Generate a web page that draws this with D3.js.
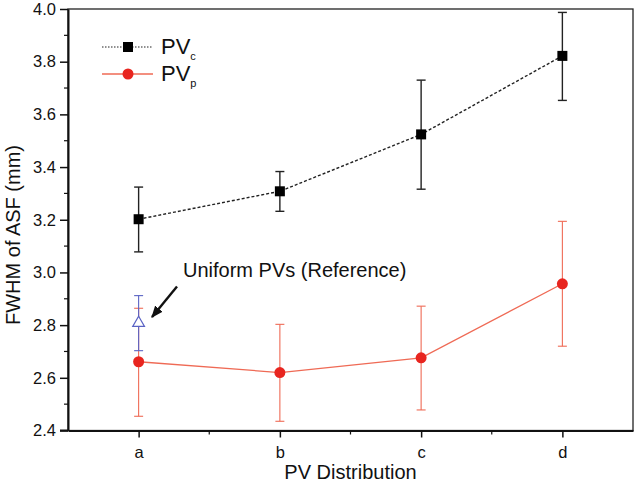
<!DOCTYPE html>
<html><head><meta charset="utf-8">
<script src="https://cdn.jsdelivr.net/npm/d3@7/dist/d3.min.js"></script>
<style>body{margin:0;background:#fff}svg{display:block}text{font-family:"Liberation Sans",Arial,sans-serif}</style>
</head><body><svg id="c" width="636" height="483"></svg>
<script>
const categories = ["a","b","c","d"];
const pvcValues = [3.202, 3.308, 3.524, 3.822];
const pvcUpper  = [3.324, 3.383, 3.730, 3.987];
const pvcLower  = [3.078, 3.232, 3.316, 3.653];
const pvpValues = [2.661, 2.620, 2.676, 2.957];
const pvpUpper  = [2.864, 2.803, 2.872, 3.194];
const pvpLower  = [2.454, 2.435, 2.478, 2.720];
const refCategory = "a";
const refValue = 2.808, refUpper = 2.912, refLower = 2.703;
const yTicks = [2.4, 2.6, 2.8, 3.0, 3.2, 3.4, 3.6, 3.8, 4.0];

const svg = d3.select("#c");
const L = 68, R = 633, T = 9, B = 430.5;
const x = d3.scaleLinear().domain([0.5, 4.5]).range([L, R]);
const xi = i => x(i + 1);
const y = d3.scaleLinear().domain([2.4, 4.0]).range([B, T]);

// frame
svg.append("rect").attr("x", L).attr("y", T).attr("width", R - L).attr("height", B - T)
  .attr("fill", "none").attr("stroke", "#222").attr("stroke-width", 1.3);

// y axis
const ya = svg.append("g").attr("transform", `translate(${L},0)`)
  .call(d3.axisLeft(y).tickValues(yTicks).tickFormat(d3.format(".1f")).tickSizeOuter(0).tickSizeInner(8).tickPadding(4));
ya.select(".domain").attr("stroke", "#111").attr("stroke-width", 2);
ya.selectAll(".tick line").attr("stroke", "#111").attr("stroke-width", 1.5);
ya.selectAll("text").attr("font-size", 16.5).attr("fill", "#111").attr("font-family", '"Liberation Sans",Arial,sans-serif');
const yMinor = d3.range(2.5, 4.0, 0.2);
svg.append("g").selectAll("line").data(yMinor).join("line")
  .attr("x1", L - 4).attr("x2", L).attr("y1", d => y(d)).attr("y2", d => y(d))
  .attr("stroke", "#111").attr("stroke-width", 1.2);

// x axis
const xa = svg.append("g").attr("transform", `translate(0,${B})`)
  .call(d3.axisBottom(x).tickValues([1, 2, 3, 4]).tickFormat(d => categories[d - 1]).tickSizeOuter(0).tickSizeInner(7).tickPadding(9));
xa.select(".domain").attr("stroke", "#111").attr("stroke-width", 2);
xa.selectAll(".tick line").attr("stroke", "#111").attr("stroke-width", 1.5);
xa.selectAll("text").attr("font-size", 16.5).attr("fill", "#111").attr("font-family", '"Liberation Sans",Arial,sans-serif');
svg.append("line").attr("x1", L - 8).attr("x2", L).attr("y1", B).attr("y2", B).attr("stroke", "#111").attr("stroke-width", 2);
svg.append("g").selectAll("line").data([1.5, 2.5, 3.5]).join("line")
  .attr("x1", d => x(d)).attr("x2", d => x(d)).attr("y1", B).attr("y2", B + 4)
  .attr("stroke", "#111").attr("stroke-width", 1.2);

// axis titles
svg.append("text").attr("x", x(2.5)).attr("y", 479).attr("text-anchor", "middle")
  .attr("font-size", 20).attr("fill", "#111").text("PV Distribution");
svg.append("text").attr("transform", `translate(20,235) rotate(-90)`).attr("text-anchor", "middle")
  .attr("font-size", 20).attr("fill", "#111").text("FWHM of ASF (mm)");

// error bar helper
function errBars(vals, up, lo, color, w, cap) {
  const g = svg.append("g");
  vals.forEach((v, i) => {
    const cx = xi(i);
    g.append("line").attr("x1", cx).attr("x2", cx).attr("y1", y(up[i])).attr("y2", y(lo[i])).attr("stroke", color).attr("stroke-width", w);
    [up[i], lo[i]].forEach(e => g.append("line").attr("x1", cx - cap).attr("x2", cx + cap).attr("y1", y(e)).attr("y2", y(e)).attr("stroke", color).attr("stroke-width", w));
  });
}

const red = "#e8251f", redLine = "#ef6a55", blue = "#5a63c4";

// PVp
errBars(pvpValues, pvpUpper, pvpLower, redLine, 1.1, 4.5);
// reference
const ri = categories.indexOf(refCategory);
errBars([refValue], [refUpper], [refLower], blue, 1.1, 4.5);
svg.append("path").datum(pvpValues)
  .attr("d", d3.line().x((d, i) => xi(i)).y(d => y(d)))
  .attr("fill", "none").attr("stroke", redLine).attr("stroke-width", 1.3);
svg.append("g").selectAll("circle").data(pvpValues).join("circle")
  .attr("cx", (d, i) => xi(i)).attr("cy", d => y(d)).attr("r", 5.5).attr("fill", red);
svg.append("path").attr("d", d3.symbol().type(d3.symbolTriangle).size(60)())
  .attr("transform", `translate(${xi(ri)},${y(refValue)})`).attr("fill", "white").attr("stroke", blue).attr("stroke-width", 1.2);

// PVc
errBars(pvcValues, pvcUpper, pvcLower, "#222", 1.4, 4.5);
svg.append("path").datum(pvcValues)
  .attr("d", d3.line().x((d, i) => xi(i)).y(d => y(d)))
  .attr("fill", "none").attr("stroke", "#222").attr("stroke-width", 1.4).attr("stroke-dasharray", "3,2");
svg.append("g").selectAll("rect").data(pvcValues).join("rect")
  .attr("x", (d, i) => xi(i) - 5).attr("y", d => y(d) - 5).attr("width", 10).attr("height", 10).attr("fill", "#000");

// annotation
svg.append("text").attr("x", 183).attr("y", 277).attr("font-size", 20).attr("fill", "#111").text("Uniform PVs (Reference)");
svg.append("defs").append("marker").attr("id", "ah").attr("viewBox", "0 0 10 10").attr("refX", 9).attr("refY", 5)
  .attr("markerWidth", 5).attr("markerHeight", 5).attr("orient", "auto")
  .append("path").attr("d", "M0,1 L10,5 L0,9 Z").attr("fill", "#111");
svg.append("line").attr("x1", 177).attr("y1", 286.5).attr("x2", 152).attr("y2", 317)
  .attr("stroke", "#111").attr("stroke-width", 2.4).attr("marker-end", "url(#ah)");

// legend
const lg = svg.append("g");
lg.append("line").attr("x1", 102).attr("x2", 153).attr("y1", 47).attr("y2", 47).attr("stroke", "#222").attr("stroke-width", 1.1).attr("stroke-dasharray", "1.5,1.5");
lg.append("rect").attr("x", 123).attr("y", 42).attr("width", 10).attr("height", 10).attr("fill", "#000");
lg.append("line").attr("x1", 102).attr("x2", 153).attr("y1", 74).attr("y2", 74).attr("stroke", redLine).attr("stroke-width", 1.3);
lg.append("circle").attr("cx", 128).attr("cy", 74).attr("r", 5.5).attr("fill", red);
const t1 = lg.append("text").attr("x", 161).attr("y", 54).attr("font-size", 22).attr("fill", "#111");
t1.append("tspan").text("PV");
t1.append("tspan").attr("font-size", 11).attr("dy", 6).text("c");
const t2 = lg.append("text").attr("x", 161).attr("y", 81).attr("font-size", 22).attr("fill", "#111");
t2.append("tspan").text("PV");
t2.append("tspan").attr("font-size", 11).attr("dy", 6).text("p");
</script></body></html>
